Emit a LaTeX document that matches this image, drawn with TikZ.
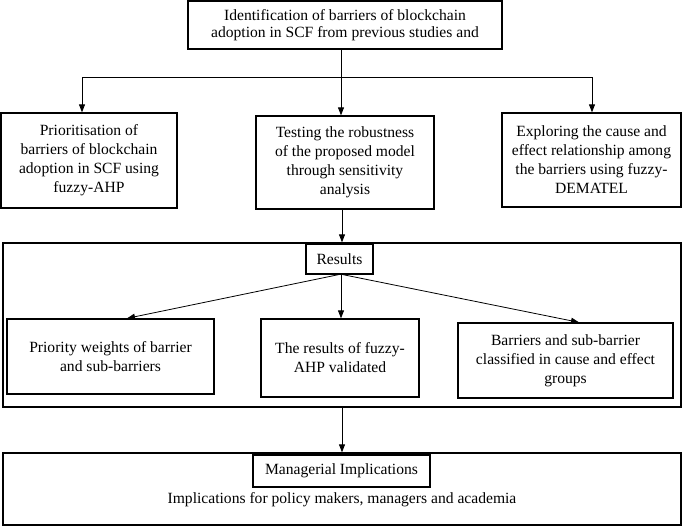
\documentclass[tikz,border=0pt]{standalone}
\usepackage{fontspec}
\setmainfont{Liberation Serif}
\usetikzlibrary{arrows.meta}
\begin{document}
\begin{tikzpicture}[x=1pt,y=-1pt,
  box/.style={draw, line width=1.3pt, inner sep=0pt, align=center,
    font=\fontsize{15.6}{19}\selectfont},
  txt/.style={inner sep=0pt, align=center, font=\fontsize{15.6}{19}\selectfont},
  arr/.style={line width=0.8pt, -{Triangle[length=8pt,width=6pt]}},
  ln/.style={line width=0.8pt}]
\useasboundingbox (0,0) rectangle (685,528);
% top
\node[box, minimum width=314, minimum height=48, font=\fontsize{15.6}{16.5}\selectfont] (top) at (345,25)
  {Identification of barriers of blockchain\\adoption in SCF from previous studies and};
% second row
\node[box, minimum width=176, minimum height=95] (p1) at (89,160.5)
  {Prioritisation of\\barriers of blockchain\\adoption in SCF using\\fuzzy-AHP};
\node[box, minimum width=178, minimum height=93] (p2) at (345,162.5)
  {Testing the robustness\\of the proposed model\\through sensitivity\\analysis};
\node[box, minimum width=179, minimum height=94] (p3) at (591.5,160)
  {Exploring the cause and\\effect relationship among\\the barriers using fuzzy-\\DEMATEL};
\coordinate (jc) at (341,77);
\coordinate (jl) at (82,77);
\coordinate (jr) at (592,77);
\draw[arr] (top.south -| jc) -- (p2.north -| jc);
\draw[ln] (jl) -- (jr);
\draw[arr] (jl) -- (jl |- p1.north);
\draw[arr] (jr) -- (jr |- p3.north);
% results block
\node[box, minimum width=678, minimum height=164] (R) at (342,325) {};
\coordinate (jm) at (342,0);
\draw[arr] (p2.south -| jm) -- (R.north -| jm);
\node[box, minimum width=67, minimum height=30] (res) at (339.5,259) {Results};
\node[box, minimum width=207, minimum height=75] (s1) at (110.5,356.5)
  {Priority weights of barrier\\and sub-barriers};
\node[box, minimum width=158, minimum height=78] (s2) at (340,358)
  {The results of fuzzy-\\AHP validated};
\node[box, minimum width=215, minimum height=75] (s3) at (565.5,360.5)
  {Barriers and sub-barrier\\classified in cause and effect\\groups};
\coordinate (a1) at (127,0);
\coordinate (a2) at (341,0);
\coordinate (a3) at (579,0);
\draw[arr] ([xshift=-1pt]res.south) -- (s1.north -| a1);
\draw[arr] (res.south -| a2) -- (s2.north -| a2);
\draw[arr] ([xshift=3.5pt]res.south) -- (s3.north -| a3);
% managerial block
\node[box, minimum width=678, minimum height=72] (M) at (342,489) {};
\draw[arr] (R.south -| jm) -- (M.north -| jm);
\node[box, minimum width=177, minimum height=32] (mi) at (341.5,471) {Managerial Implications};
\node[txt] (impl) at (342,500) {Implications for policy makers, managers and academia};
\end{tikzpicture}
\end{document}
